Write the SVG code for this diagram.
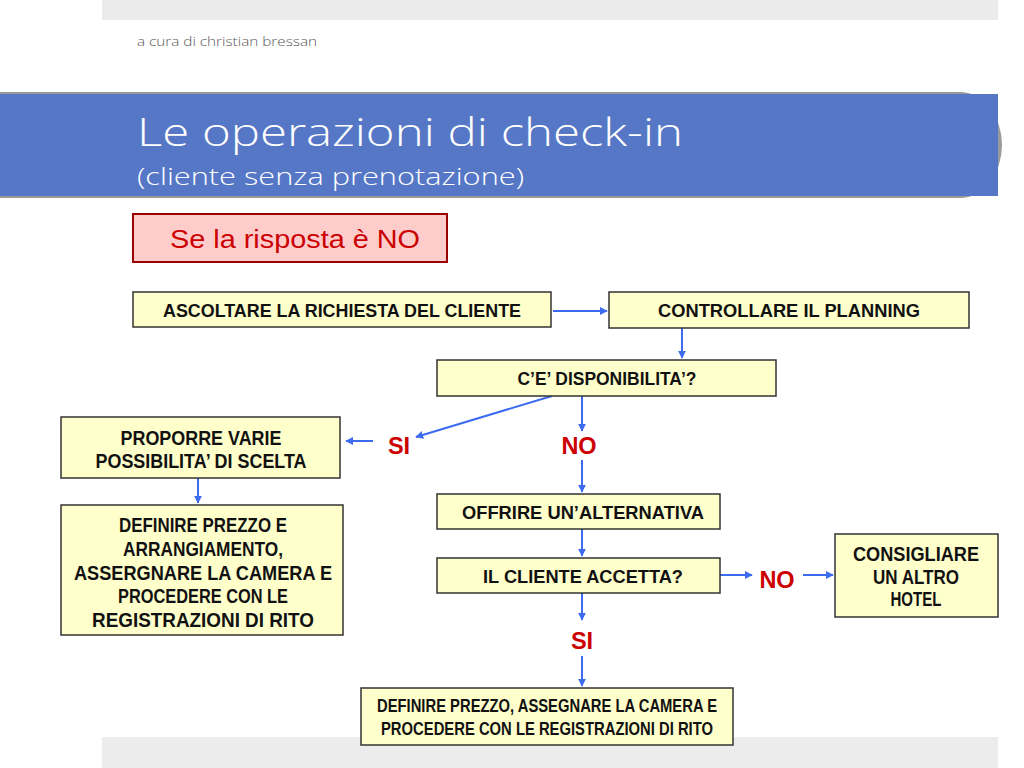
<svg xmlns="http://www.w3.org/2000/svg" width="1024" height="768" viewBox="0 0 1024 768">
<style>
.box{fill:#ffffcc;stroke:#333;stroke-width:1.5}
.bt{font-family:"Liberation Sans",Arial,sans-serif;font-weight:bold;font-size:18px;fill:#111;text-anchor:middle}
.b19{font-size:19.5px}
.b20{font-size:20px}
.b17{font-size:17.5px}
.lab{font-family:"Liberation Sans",Arial,sans-serif;font-weight:bold;font-size:23.5px;fill:#cc0000;text-anchor:middle}
.con line{stroke:#3d6bf0;stroke-width:2;fill:none}
</style>
<defs>
<marker id="ah" viewBox="0 0 10 10" refX="9" refY="5" markerWidth="4" markerHeight="4" orient="auto" markerUnits="strokeWidth">
<path d="M0,0 L10,5 L0,10 Z" fill="#3d6bf0"/>
</marker>
</defs>
<rect width="1024" height="768" fill="#ffffff"/>
<rect x="102" y="0" width="896" height="20" fill="#ebebeb"/>
<rect x="102" y="737" width="896" height="31" fill="#ececec"/>
<text x="137" y="46" font-family="'Open Sans','Liberation Sans',sans-serif" font-weight="300" font-size="12" fill="#555" textLength="180" lengthAdjust="spacingAndGlyphs">a cura di christian bressan</text>
<path d="M0,92 L960,92 A42,53 0 0 1 960,198 L0,198 Z" fill="#9a9a9a"/>
<rect x="0" y="94" width="998" height="102" fill="#5677c5"/>
<text x="137" y="146" font-family="'Open Sans','Liberation Sans',sans-serif" font-weight="300" font-size="39" fill="#ffffff" textLength="546" lengthAdjust="spacingAndGlyphs">Le operazioni di check-in</text>
<text x="137" y="185" font-family="'Open Sans','Liberation Sans',sans-serif" font-weight="300" font-size="24" fill="#ffffff" textLength="387" lengthAdjust="spacingAndGlyphs">(cliente senza prenotazione)</text>
<g id="note">
<rect x="133" y="214" width="314" height="48" fill="#ffcccc" stroke="#990000" stroke-width="2"/>
<text x="295" y="248" font-family="'Liberation Sans',Arial,sans-serif" font-size="26" fill="#cc0000" text-anchor="middle" textLength="250" lengthAdjust="spacingAndGlyphs">Se la risposta è NO</text>
</g>
<g class="con" id="connectors">
<line x1="553" y1="311" x2="607" y2="311" marker-end="url(#ah)"/>
<line x1="682" y1="328" x2="682" y2="358" marker-end="url(#ah)"/>
<line x1="552" y1="396" x2="416" y2="437" marker-end="url(#ah)"/>
<line x1="373" y1="441" x2="346" y2="441" marker-end="url(#ah)"/>
<line x1="582" y1="396" x2="582" y2="431" marker-end="url(#ah)"/>
<line x1="582" y1="460" x2="582" y2="492" marker-end="url(#ah)"/>
<line x1="198" y1="478" x2="198" y2="503" marker-end="url(#ah)"/>
<line x1="582" y1="529" x2="582" y2="556" marker-end="url(#ah)"/>
<line x1="720" y1="575" x2="752" y2="575" marker-end="url(#ah)"/>
<line x1="803" y1="575" x2="833" y2="575" marker-end="url(#ah)"/>
<line x1="582" y1="593" x2="582" y2="620" marker-end="url(#ah)"/>
<line x1="582" y1="656" x2="582" y2="686" marker-end="url(#ah)"/>
</g>
<g id="labels">
<text class="lab" x="399" y="454">SI</text>
<text class="lab" x="579" y="454">NO</text>
<text class="lab" x="777" y="588">NO</text>
<text class="lab" x="582" y="649">SI</text>
</g>
<g id="n1"><rect class="box" x="133" y="292" width="418" height="35"/>
<text class="bt" x="342" y="317" textLength="358" lengthAdjust="spacingAndGlyphs">ASCOLTARE LA RICHIESTA DEL CLIENTE</text></g>
<g id="n2"><rect class="box" x="609" y="292" width="360" height="36"/>
<text class="bt" x="789" y="317" textLength="262" lengthAdjust="spacingAndGlyphs">CONTROLLARE IL PLANNING</text></g>
<g id="n3"><rect class="box" x="437" y="360" width="339" height="36"/>
<text class="bt" x="607" y="385" textLength="179" lengthAdjust="spacingAndGlyphs">C’E’ DISPONIBILITA’?</text></g>
<g id="n4"><rect class="box" x="61" y="417" width="279" height="61"/>
<text class="bt b19" x="201" y="445" textLength="161" lengthAdjust="spacingAndGlyphs">PROPORRE VARIE</text>
<text class="bt b19" x="201" y="468" textLength="211" lengthAdjust="spacingAndGlyphs">POSSIBILITA’ DI SCELTA</text></g>
<g id="n5"><rect class="box" x="61" y="505" width="282" height="130"/>
<text class="bt b20" x="203" y="532" textLength="168" lengthAdjust="spacingAndGlyphs">DEFINIRE PREZZO E</text>
<text class="bt b20" x="203" y="556" textLength="160" lengthAdjust="spacingAndGlyphs">ARRANGIAMENTO,</text>
<text class="bt b20" x="203" y="580" textLength="258" lengthAdjust="spacingAndGlyphs">ASSERGNARE LA CAMERA E</text>
<text class="bt b20" x="203" y="603" textLength="170" lengthAdjust="spacingAndGlyphs">PROCEDERE CON LE</text>
<text class="bt b20" x="203" y="627" textLength="222" lengthAdjust="spacingAndGlyphs">REGISTRAZIONI DI RITO</text></g>
<g id="n6"><rect class="box" x="437" y="494" width="283" height="35"/>
<text class="bt" x="583" y="519" textLength="242" lengthAdjust="spacingAndGlyphs">OFFRIRE UN’ALTERNATIVA</text></g>
<g id="n7"><rect class="box" x="437" y="558" width="283" height="35"/>
<text class="bt" x="583" y="583" textLength="200" lengthAdjust="spacingAndGlyphs">IL CLIENTE ACCETTA?</text></g>
<g id="n8"><rect class="box" x="835" y="534" width="163" height="83"/>
<text class="bt b19" x="916" y="561" textLength="126" lengthAdjust="spacingAndGlyphs">CONSIGLIARE</text>
<text class="bt b19" x="916" y="584" textLength="86" lengthAdjust="spacingAndGlyphs">UN ALTRO</text>
<text class="bt b19" x="916" y="606" textLength="51" lengthAdjust="spacingAndGlyphs">HOTEL</text></g>
<g id="n9"><rect class="box" x="361" y="688" width="372" height="57"/>
<text class="bt b17" x="547" y="712" textLength="340" lengthAdjust="spacingAndGlyphs">DEFINIRE PREZZO, ASSEGNARE LA CAMERA E</text>
<text class="bt b17" x="547" y="735" textLength="332" lengthAdjust="spacingAndGlyphs">PROCEDERE CON LE REGISTRAZIONI DI RITO</text></g>
</svg>
